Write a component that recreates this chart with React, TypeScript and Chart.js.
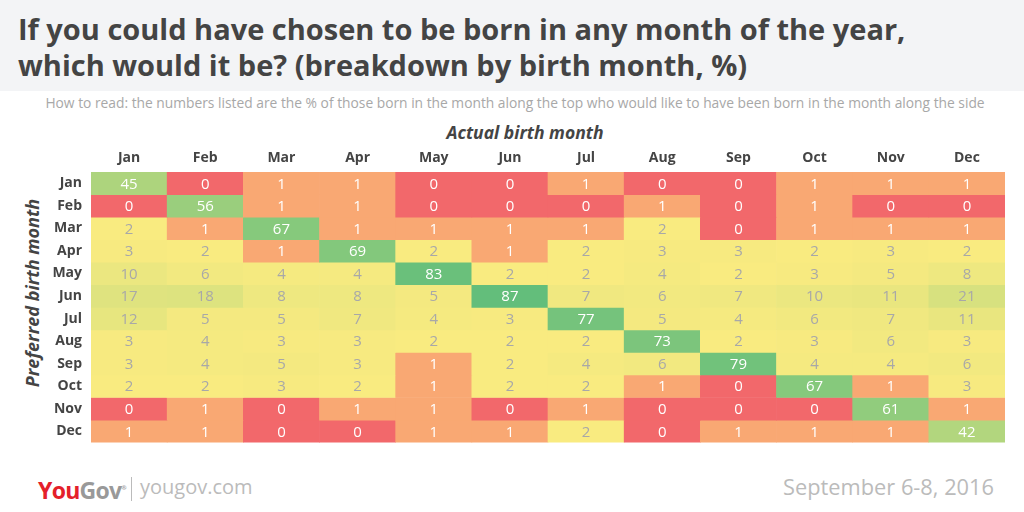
import React, { useEffect, useRef } from "react";
import { Chart, registerables } from "chart.js";

Chart.register(...registerables);

const months = ["Jan", "Feb", "Mar", "Apr", "May", "Jun", "Jul", "Aug", "Sep", "Oct", "Nov", "Dec"];

// rows = preferred birth month, columns = actual birth month (%)
const prefJan = [45, 0, 1, 1, 0, 0, 1, 0, 0, 1, 1, 1];
const prefFeb = [0, 56, 1, 1, 0, 0, 0, 1, 0, 1, 0, 0];
const prefMar = [2, 1, 67, 1, 1, 1, 1, 2, 0, 1, 1, 1];
const prefApr = [3, 2, 1, 69, 2, 1, 2, 3, 3, 2, 3, 2];
const prefMay = [10, 6, 4, 4, 83, 2, 2, 4, 2, 3, 5, 8];
const prefJun = [17, 18, 8, 8, 5, 87, 7, 6, 7, 10, 11, 21];
const prefJul = [12, 5, 5, 7, 4, 3, 77, 5, 4, 6, 7, 11];
const prefAug = [3, 4, 3, 3, 2, 2, 2, 73, 2, 3, 6, 3];
const prefSep = [3, 4, 5, 3, 1, 2, 4, 6, 79, 4, 4, 6];
const prefOct = [2, 2, 3, 2, 1, 2, 2, 1, 0, 67, 1, 3];
const prefNov = [0, 1, 0, 1, 1, 0, 1, 0, 0, 0, 61, 1];
const prefDec = [1, 1, 0, 0, 1, 1, 2, 0, 1, 1, 1, 42];

const rows = [prefJan, prefFeb, prefMar, prefApr, prefMay, prefJun, prefJul, prefAug, prefSep, prefOct, prefNov, prefDec];

const RED = [242, 104, 107];
const ORANGE = [249, 168, 115];
const YELLOW = [249, 235, 128];
const GREEN = [99, 190, 123];
const MAXV = 87;

function cellColor(v: number): string {
  if (v <= 0) return `rgb(${RED.join(",")})`;
  if (v === 1) return `rgb(${ORANGE.join(",")})`;
  const t = Math.min(1, (v - 2) / (MAXV - 2));
  const c = YELLOW.map((y, i) => Math.round(y + (GREEN[i] - y) * t));
  return `rgb(${c.join(",")})`;
}

function textColor(v: number): string {
  return v <= 1 || v >= 40 ? "#ffffff" : "#a8a8a8";
}

const FONT = "'Open Sans', 'Lato', sans-serif";

const labelPlugin = {
  id: "cellLabels",
  afterDatasetsDraw(chart: any) {
    const ctx = chart.ctx;
    ctx.save();
    ctx.font = `15px ${FONT}`;
    ctx.textAlign = "center";
    ctx.textBaseline = "middle";
    chart.data.datasets.forEach((ds: any, i: number) => {
      const meta = chart.getDatasetMeta(i);
      meta.data.forEach((el: any, j: number) => {
        const v = ds.values[j];
        const p = el.getCenterPoint();
        ctx.fillStyle = textColor(v);
        ctx.fillText(String(v), p.x, p.y + 1);
      });
    });
    ctx.restore();
  },
};

export default function App() {
  const ref = useRef<HTMLCanvasElement>(null);
  useEffect(() => {
    if (!ref.current) return;
    const chart = new Chart(ref.current, {
      type: "bar",
      data: {
        labels: months,
        datasets: rows.map((r, i) => ({
          label: months[i],
          data: r.map(() => 1),
          values: r,
          backgroundColor: r.map(cellColor),
          borderWidth: 0,
          barPercentage: 1,
          categoryPercentage: 1,
          stack: "s",
        })) as any,
      },
      options: {
        animation: false,
        responsive: false,
        maintainAspectRatio: false,
        layout: { padding: { top: 0, right: 19, bottom: 8, left: 0 } },
        plugins: { legend: { display: false }, tooltip: { enabled: false }, title: { display: false } },
        scales: {
          x: {
            type: "category",
            position: "top",
            stacked: true,
            grid: { display: false, drawTicks: false },
            border: { display: false },
            ticks: { color: "#444", font: { family: FONT, size: 14, weight: "bold" }, padding: 6, maxRotation: 0 },
            afterFit: (s: any) => { s.height = 57; },
          },
          y: {
            type: "linear",
            stacked: true,
            reverse: true,
            min: 0,
            max: 12,
            grid: { display: false, drawTicks: false },
            border: { display: false },
            afterBuildTicks: (axis: any) => { axis.ticks = months.map((_, i) => ({ value: i + 0.5 })); },
            ticks: {
              color: "#444",
              font: { family: FONT, size: 14, weight: "bold" },
              padding: 9,
              autoSkip: false,
              callback: (v: any) => months[Math.floor(Number(v))],
            },
            afterFit: (s: any) => { s.width = 91; },
          },
        },
      },
      plugins: [labelPlugin],
    });
    return () => chart.destroy();
  }, []);

  return (
    <div style={{ position: "fixed", left: 0, top: 0, width: 1024, height: 512, background: "#fff", fontFamily: FONT, overflow: "hidden" }}>
      <div style={{ position: "absolute", left: 0, top: 0, width: 1024, height: 91, background: "#f3f4f6" }} />
      <div style={{ position: "absolute", left: 18, top: 11, fontSize: 29, fontWeight: 700, lineHeight: "36px", color: "#444", whiteSpace: "nowrap" }}>
        If you could have chosen to be born in any month of the year,<br />which would it be? (breakdown by birth month, %)
      </div>
      <div style={{ position: "absolute", left: 3, width: 1024, top: 94, fontSize: 13.8, lineHeight: "18px", color: "#a8a8a8", textAlign: "center", whiteSpace: "nowrap" }}>
        How to read: the numbers listed are the % of those born in the month along the top who would like to have been born in the month along the side
      </div>
      <div style={{ position: "absolute", left: 425, width: 200, top: 121, fontSize: 17.5, lineHeight: "22px", fontWeight: 700, fontStyle: "italic", color: "#444", textAlign: "center", whiteSpace: "nowrap" }}>
        Actual birth month
      </div>
      <div style={{ position: "absolute", left: 32 - 100, width: 200, top: 293 - 11, fontSize: 18, lineHeight: "22px", fontWeight: 700, fontStyle: "italic", color: "#444", textAlign: "center", whiteSpace: "nowrap", transform: "rotate(-90deg)" }}>
        Preferred birth month
      </div>
      <canvas ref={ref} width={1024} height={345} style={{ position: "absolute", left: 0, top: 115, width: 1024, height: 345 }} />
      <div style={{ position: "absolute", left: 38, top: 475, fontSize: 23, lineHeight: "26px", fontWeight: 700, letterSpacing: -0.7, whiteSpace: "nowrap" }}>
        <span style={{ color: "#e4202a" }}>You</span><span style={{ color: "#999" }}>Gov</span><sup style={{ fontSize: 6, color: "#999" }}>®</sup>
      </div>
      <div style={{ position: "absolute", left: 131, top: 477, width: 1, height: 24, background: "#bbb" }} />
      <div style={{ position: "absolute", left: 140, top: 474, fontSize: 20, lineHeight: "26px", color: "#bbb", whiteSpace: "nowrap" }}>yougov.com</div>
      <div style={{ position: "absolute", right: 30, top: 474, fontSize: 21.8, lineHeight: "26px", color: "#bbb", whiteSpace: "nowrap" }}>September 6-8, 2016</div>
    </div>
  );
}
